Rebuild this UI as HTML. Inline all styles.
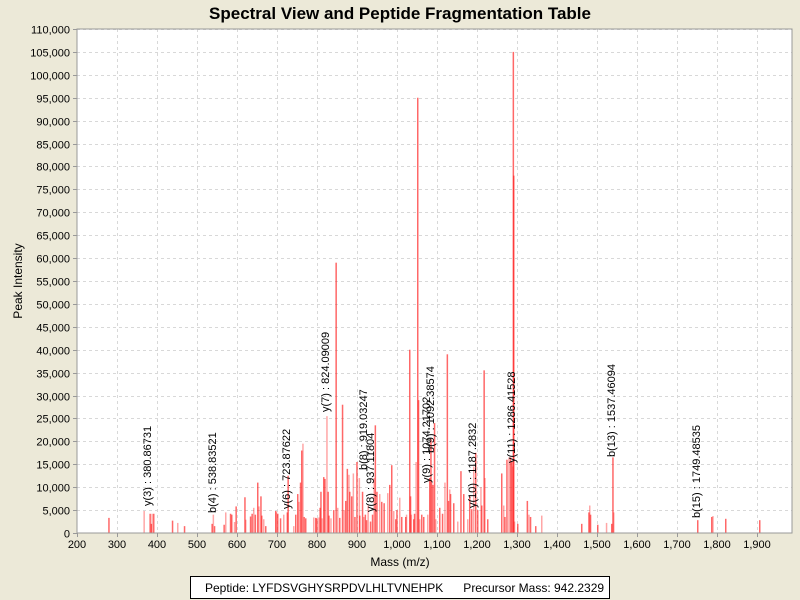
<!DOCTYPE html>
<html><head><meta charset="utf-8"><style>
body{margin:0;background:#ece9d8;}
svg{display:block;font-family:"Liberation Sans",Arial,sans-serif;}
</style></head><body>
<svg id="s" width="800" height="600" xmlns="http://www.w3.org/2000/svg">
<rect width="800" height="600" fill="#ece9d8"/>
<text x="400" y="19" text-anchor="middle" font-size="17" font-weight="bold">Spectral View and Peptide Fragmentation Table</text>
<rect x="77" y="29" width="715" height="504" fill="#fff"/>
<g id="grid"></g>
<g id="bars"></g>
<rect x="77" y="29" width="715" height="504" fill="none" stroke="#999"/>
<g id="ticks"></g>
<g font-size="11" fill="#000" id="labels"></g>
<text x="400" y="566" text-anchor="middle" font-size="12">Mass (m/z)</text>
<text transform="translate(22,281) rotate(-90)" text-anchor="middle" font-size="12">Peak Intensity</text>
<rect x="190.5" y="576.5" width="419" height="22" fill="#fff" stroke="#000"/>
<text x="205" y="592" font-size="12" xml:space="preserve" style="white-space:pre">Peptide: LYFDSVGHYSRPDVLHLTVNEHPK      Precursor Mass: 942.2329</text>
<g font-size="11" id="ann">
<text transform="translate(151,506) rotate(-90)">y(3) : 380.86731</text>
<text transform="translate(216,513) rotate(-90)">b(4) : 538.83521</text>
<text transform="translate(290,509) rotate(-90)">y(6) : 723.87622</text>
<text transform="translate(329,412) rotate(-90)">y(7) : 824.09009</text>
<text transform="translate(367,470) rotate(-90)">b(8) : 919.03247</text>
<text transform="translate(374,512) rotate(-90)">y(8) : 937.11804</text>
<text transform="translate(430,483) rotate(-90)">y(9) : 1074.21702</text>
<text transform="translate(434,453) rotate(-90)">b(9) : 1092.38574</text>
<text transform="translate(476,508) rotate(-90)">y(10) : 1187.2832</text>
<text transform="translate(515,463) rotate(-90)">y(11) : 1286.41528</text>
<text transform="translate(615,457) rotate(-90)">b(13) : 1537.46094</text>
<text transform="translate(700,518) rotate(-90)">b(15) : 1749.48535</text>
</g>
</svg>
<script>
var NS="http://www.w3.org/2000/svg";
function X(m){return 77+(m-200)*0.4;}
function Y(v){return 533-v*504/110000;}
function el(p,t,a){var e=document.createElementNS(NS,t);for(var k in a)e.setAttribute(k,a[k]);document.getElementById(p).appendChild(e);return e;}
for(var m=300;m<=1900;m+=100){var x=X(m)+.5;el("grid","line",{x1:x,x2:x,y1:29,y2:533,stroke:"#d8d8d8","stroke-dasharray":"3,3"});}
for(var v=5000;v<=110000;v+=5000){var y=Math.round(Y(v))+.5;el("grid","line",{x1:77,x2:792,y1:y,y2:y,stroke:"#d8d8d8","stroke-dasharray":"3,3"});}
for(var m=200;m<=1900;m+=100){var x=X(m)+.5;el("ticks","line",{x1:x,x2:x,y1:533,y2:537,stroke:"#999"});
 var t=el("labels","text",{x:X(m),y:548,"text-anchor":"middle"});t.textContent=m>=1000?(Math.floor(m/1000)+","+String(m%1000).padStart(3,"0")):m;}
for(var v=0;v<=110000;v+=5000){var y=Math.round(Y(v))+.5;el("ticks","line",{x1:73,x2:77,y1:y,y2:y,stroke:"#999"});
 var t=el("labels","text",{x:70,y:y+4,"text-anchor":"end"});t.textContent=v>=1000?(Math.floor(v/1000)+","+String(v%1000).padStart(3,"0")):v;}
var P=[[278,3300],[366,4800],[381,4200],[384,2000],[386,4200],[390,4200],[437,2700],[450,2200],[467,1500],[536,2000],[539,4000],[542,1500],[566,1800],[570,4500],[582,4200],[585,4000],[592,2400],[596,5800],[618,7800],[620,2900],[632,3600],[636,4200],[640,5500],[644,4000],[650,11000],[653,5800],[658,8000],[660,3800],[665,3000],[670,1500],[695,4800],[697,4500],[700,4200],[707,3200],[715,4000],[724,4500],[726,12500],[740,1500],[745,4000],[750,8500],[753,6800],[757,11000],[760,18000],[763,19500],[766,3500],[770,3200],[790,3400],[795,3300],[798,3200],[803,3400],[806,5500],[808,9000],[811,3200],[815,12200],[818,11800],[823,25500],[826,9000],[828,3800],[833,3200],[840,5000],[846,59000],[850,5500],[855,3300],[862,28000],[866,5000],[870,7000],[874,14000],[878,12700],[880,9000],[885,8000],[889,13000],[893,3500],[898,15500],[904,12000],[905,3800],[912,9000],[915,3500],[919,4000],[922,2800],[926,6000],[932,2500],[937,4000],[941,12000],[944,23500],[948,9000],[955,8500],[960,6800],[966,6500],[975,8700],[980,10500],[985,14800],[990,4800],[995,3000],[998,5000],[1005,7700],[1010,3500],[1020,3500],[1022,4000],[1030,40000],[1032,8000],[1034,4000],[1040,3000],[1042,4200],[1046,15500],[1050,95000],[1052,29000],[1055,3000],[1060,4000],[1065,3500],[1075,4000],[1080,12000],[1083,20500],[1085,11000],[1088,10500],[1092,24000],[1095,3000],[1105,5500],[1112,4200],[1118,11000],[1124,39000],[1127,7000],[1130,9500],[1132,8500],[1140,6500],[1150,2500],[1158,13500],[1165,8500],[1175,3000],[1180,8000],[1185,5200],[1190,14500],[1195,17500],[1200,5000],[1208,10000],[1210,6000],[1216,35500],[1218,12000],[1225,3000],[1260,13000],[1265,6000],[1268,3500],[1273,16000],[1278,16500],[1282,16500],[1285,15500],[1288,14500],[1289,105000],[1290,78000],[1292,2500],[1300,2000],[1324,7000],[1328,4000],[1332,3500],[1345,1500],[1360,3800],[1460,2000],[1478,4500],[1480,6000],[1482,4000],[1500,1800],[1522,2200],[1535,2000],[1538,16500],[1540,4500],[1750,2800],[1785,3500],[1788,3700],[1820,3100],[1905,2800]];
P.forEach(function(p,i){var x=X(p[0]),y=Y(p[1]);el("bars","rect",{x:x,y:y,width:1.5,height:533-y,fill:(i%3==1?"rgba(255,0,0,0.35)":"rgba(255,40,40,0.7)")});});
</script>
</body></html>
